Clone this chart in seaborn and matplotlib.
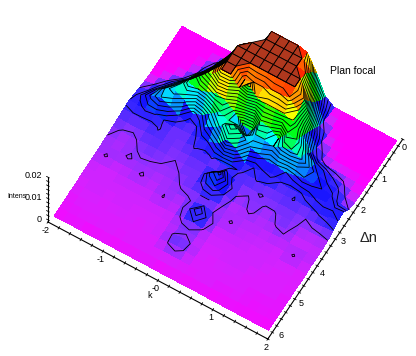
import matplotlib
matplotlib.use("Agg")
import matplotlib.pyplot as plt
import numpy as np
import seaborn as sns

# intensity, in units of 0.001, one row per delta-n step
row_00 = [0,0,0,0,0,0,0,0,2,10,20,20,20,20,19,12,3,0,0,0,0,0,0,0,0]
row_01 = [0,0,0,0,0,0,.3,1.5,6,15,20,20,20,20,20,16,5,.5,0,0,0,0,0,0,0]
row_02 = [0,0,0,0,.1,1.2,4,9,17,20,20,20,20,20,20,19,8,1,.1,0,0,0,0,0,0]
row_03 = [0,0,0,0,.6,2.5,6,12,20,20,20,20,20,20,20,20,12,2.5,.3,0,0,0,0,0,0]
row_04 = [0,0,0,.2,1.2,4,9,15,20,20,20,20,20,20,20,20,17,5,1,.2,0,0,0,0,0]
row_05 = [0,0,.2,.9,2.8,7,12,17,20,20,16,17,17,18,18,19,15,7,2,.5,.1,0,0,0,0]
row_06 = [0,.2,1.1,3,6,11,14,16,20,20,16,20,16,15,15,15,14,9,3.5,1.3,.8,.6,.5,.2,0]
row_07 = [.3,1,2.5,5,8,11,10,11,13,12,9,4.5,4,11,10,7,12,11,7,4,3,2,1.3,.4,.1]
row_08 = [1,2,4.5,7.5,9,7,2.5,4,7,10,8,8,5,8,8,7,9,10,8.5,6,4,3,2.4,1,.3]
row_09 = [1.5,3.5,5.5,7,5.5,3,1.6,2,4.5,6.5,9.5,12,10,6,5,3.5,4,3,4,5,4.5,4,3.3,1.4,1]
row_10 = [2.2,2.6,3.5,3.2,1.9,1.4,1.4,1.5,2.5,3.2,5,9,7,2.5,2,3,3.5,2,1.6,1.8,2.4,3.2,3.5,3.2,3.5]
row_11 = [1.8,1.9,1.7,1.6,2.1,1.4,1.3,1.4,2.1,1.7,2.2,1.4,1.5,2.2,1.6,2.1,1.6,1.5,1.4,2.1,1.5,1.7,2.2,2.5,3]
row_12 = [1.5,1.3,1.2,1.6,1.7,1.5,1.4,1.1,1.5,1.6,1.3,1,3.5,1.5,1.4,1.2,.9,1.3,1.4,1.3,1.1,1,1.2,1.4,1.8]
row_13 = [1.2,.9,.8,1.1,1.4,1.4,1.1,1,1.2,1.4,1.2,4.5,6.5,2.5,1.1,.9,1.3,.9,.9,1.3,1.2,.9,.8,.8,.9]
row_14 = [1,.8,.7,.9,1.2,1.1,1,.9,1,1.4,1.2,3,4,2,.8,.7,1.2,.7,.7,1.1,1.1,.6,.5,.5,.6]
row_15 = [.8,.7,.8,1.1,.8,.8,.7,.9,.8,1.1,1.4,1,1,1.2,.7,.6,.6,.8,.6,.6,.9,.5,.5,.6,.5]
row_16 = [.6,1.1,.6,.6,.7,1.1,.7,.6,.9,.8,.8,1.2,2,1,.6,1.1,.6,.6,.6,.5,.5,.5,1.1,.5,.7]
row_17 = [.5,.4,.5,.5,.6,.5,.5,.6,1.05,.6,.7,2,4,1.6,.6,.5,.6,.5,.5,.5,.4,.4,.4,.4,.3]
row_18 = [.5,.5,.4,.4,.5,.5,.5,.4,.5,.5,.6,1.4,2,1.1,.5,.4,.5,.5,.4,.4,.5,.4,.4,.3,.3]
row_19 = [.4,.4,.5,.5,.4,.4,.4,.5,.4,.4,.4,.6,.7,.5,.4,.5,.4,.4,.5,.5,.4,.3,.3,.4,.3]
row_20 = [.3,.4,.4,.3,.4,.5,.4,.3,.4,.4,.5,1.1,1.6,.9,.4,.3,.4,.5,.4,.3,.3,.4,.4,.3,.2]
row_21 = [.3,.3,.4,.4,.3,.3,.4,.4,.3,.4,.4,1.05,1.4,.8,.4,.4,.3,.3,.4,.4,.3,.3,.3,.3,.2]
row_22 = [.2,.3,.3,.3,.4,.4,.3,.3,.4,.3,.3,.4,.5,.4,.3,.3,.4,.4,.3,.3,.3,.2,.2,.3,.2]
row_23 = [.2,.2,.3,.3,.2,.3,.3,.3,.3,.3,.4,.3,.3,.3,.3,.3,.3,.2,.2,.3,.3,.2,.2,.2,.1]
row_24 = [.1,.1,.2,.1,.1,.2,.1,.1,.2,.1,.2,.1,.1,.2,.1,.1,.2,.1,.1,.1,.1,.1,.1,.1,.1]

ROWS = [row_00, row_01, row_02, row_03, row_04, row_05, row_06, row_07, row_08,
        row_09, row_10, row_11, row_12, row_13, row_14, row_15, row_16, row_17,
        row_18, row_19, row_20, row_21, row_22, row_23, row_24]

k_values = np.linspace(-1.95, 1.95, 25)
dn_values = np.linspace(0.15, 5.85, 25)
k_ticks = np.arange(-2, 2.01, 0.2)
dn_ticks = np.arange(0, 6.01, 0.2)
z_ticks = np.arange(0, 0.0201, 0.002)
dn_labels = ["0", "1", "2", "3", "4", "5", "6"]
z_labels = ["0", "0.01", "0.02"]

sns.set_theme(style="white")
plt.rcParams["font.family"] = ["Liberation Sans", "DejaVu Sans"]

intens = np.array(ROWS) * 0.001
K, N = np.meshgrid(k_values, dn_values)

cmap = sns.blend_palette(
    ["#ff00ff", "#d422ff", "#8a30ff", "#3a28ff", "#1010ff", "#00ffff", "#00ff00", "#ffff00", "#ff2000"],
    n_colors=256,
    as_cmap=True,
)

fig = plt.figure(figsize=(4.16, 3.56), dpi=100, facecolor="white")
ax = fig.add_axes([42.5 / 416, 15 / 356, 356 / 416, 1.0], projection="3d", computed_zorder=False)
ax.patch.set_alpha(0)
ax.set_proj_type("ortho")
ax.view_init(elev=62.6, azim=-59.05)
ax.set_box_aspect((258, 264, 98), zoom=1.035)

# flat colour per cell, taken from the mean height of its corners
cells = (intens[:-1, :-1] + intens[1:, :-1] + intens[:-1, 1:] + intens[1:, 1:]) / 4
# first nodes of the palette are squeezed so the low band runs magenta to blue quickly
stops = np.interp(cells / 0.02, [0, .02, .05, .1, .2, .4, .6, .8, 1], np.linspace(0, 1, 9))
ax.plot_surface(K, N, intens, rstride=1, cstride=1, facecolors=cmap(stops),
                linewidth=0, antialiased=False, shade=False, zorder=1)

ax.contour(K, N, intens, levels=np.arange(0.001, 0.0201, 0.001), colors="black",
           linewidths=0.6, zorder=2)

# clipped top of the peak keeps its black mesh
plateau = np.where(intens >= 0.02, intens, np.nan)
ax.plot_surface(K, N, plateau, rstride=1, cstride=1, color="#b0381e", edgecolor="black",
                linewidth=0.6, shade=False, zorder=3)

ax.set_xlim(-2, 2)
ax.set_ylim(6, 0)
ax.set_zlim(-0.001, 0.02)
ax.grid(False)
ax.set_xticks(k_ticks)
ax.set_xticklabels([f"{t:.0f}" if abs(t - round(t)) < 1e-6 else "" for t in k_ticks])
ax.set_yticks(dn_ticks)
ax.set_yticklabels([""] * len(dn_ticks))
ax.set_zticks(z_ticks)
ax.set_zticklabels([""] * len(z_ticks))
ax.tick_params(labelsize=6.5, pad=-6, colors="black")
# z axis belongs on the left corner
ax.zaxis._axinfo["juggled"] = (1, 2, 0)
for axis in (ax.xaxis, ax.yaxis, ax.zaxis):
    axis.pane.set_visible(False)
    axis.line.set_color("black")
    axis.line.set_linewidth(0.8)
    axis._axinfo["tick"].update(inward_factor=0.08, outward_factor=0.08, linewidth={True: 0.6, False: 0.6})

# the reference sets these labels at its own offsets, so they are placed by pixel
for label, (px, py) in zip(dn_labels, [(404, 148), (384, 180), (363, 211), (343, 242),
                                       (322, 273), (301, 304), (281, 335)]):
    fig.text(px / 416, 1 - py / 356, label, fontsize=6.5, ha="center", va="center", color="black")
for label, py in zip(z_labels, [219, 197, 175]):
    fig.text(42 / 416, 1 - py / 356, label, fontsize=6.5, ha="right", va="center", color="black")

fig.text(330 / 416, 1 - 71 / 356, "Plan focal", fontsize=7.5, va="center", color="black")
fig.text(360 / 416, 1 - 238 / 356, "\u0394n", fontsize=10.5, va="center", color="#222222")
fig.text(147 / 416, 1 - 295 / 356, "k", fontsize=6.5, va="center", color="black")
fig.text(7 / 416, 1 - 197 / 356, "Intens", fontsize=5, va="center", color="black")

fig.savefig("out.png", dpi=100)
